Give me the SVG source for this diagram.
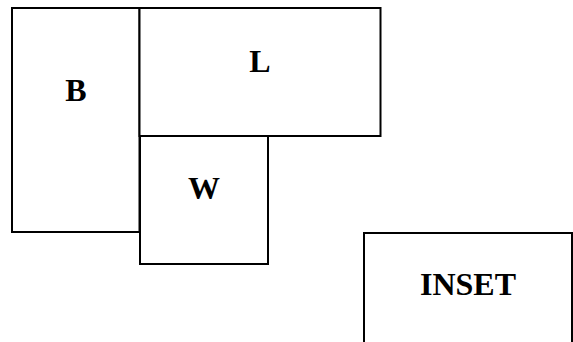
<svg xmlns="http://www.w3.org/2000/svg" width="573" height="342" viewBox="0 0 573 342">
<style>
.box{fill:#fff;stroke:#000;stroke-width:2}
.lbl{font-family:"Liberation Serif","Times New Roman",serif;font-weight:bold;font-size:32px;fill:#000;text-anchor:middle}
</style>
<rect width="573" height="342" fill="#fff"/>
<g id="B"><rect class="box" x="12" y="8" width="127.5" height="224"/><text class="lbl" x="76" y="101">B</text></g>
<g id="L"><rect class="box" x="139.5" y="8" width="241" height="128"/><text class="lbl" x="260" y="71.5">L</text></g>
<g id="W"><rect class="box" x="140" y="136" width="128" height="128"/><text class="lbl" x="204" y="199">W</text></g>
<g id="INSET"><rect class="box" x="364" y="233" width="208" height="120"/><text class="lbl" x="468" y="295">INSET</text></g>
<g id="connectors"></g>
</svg>
